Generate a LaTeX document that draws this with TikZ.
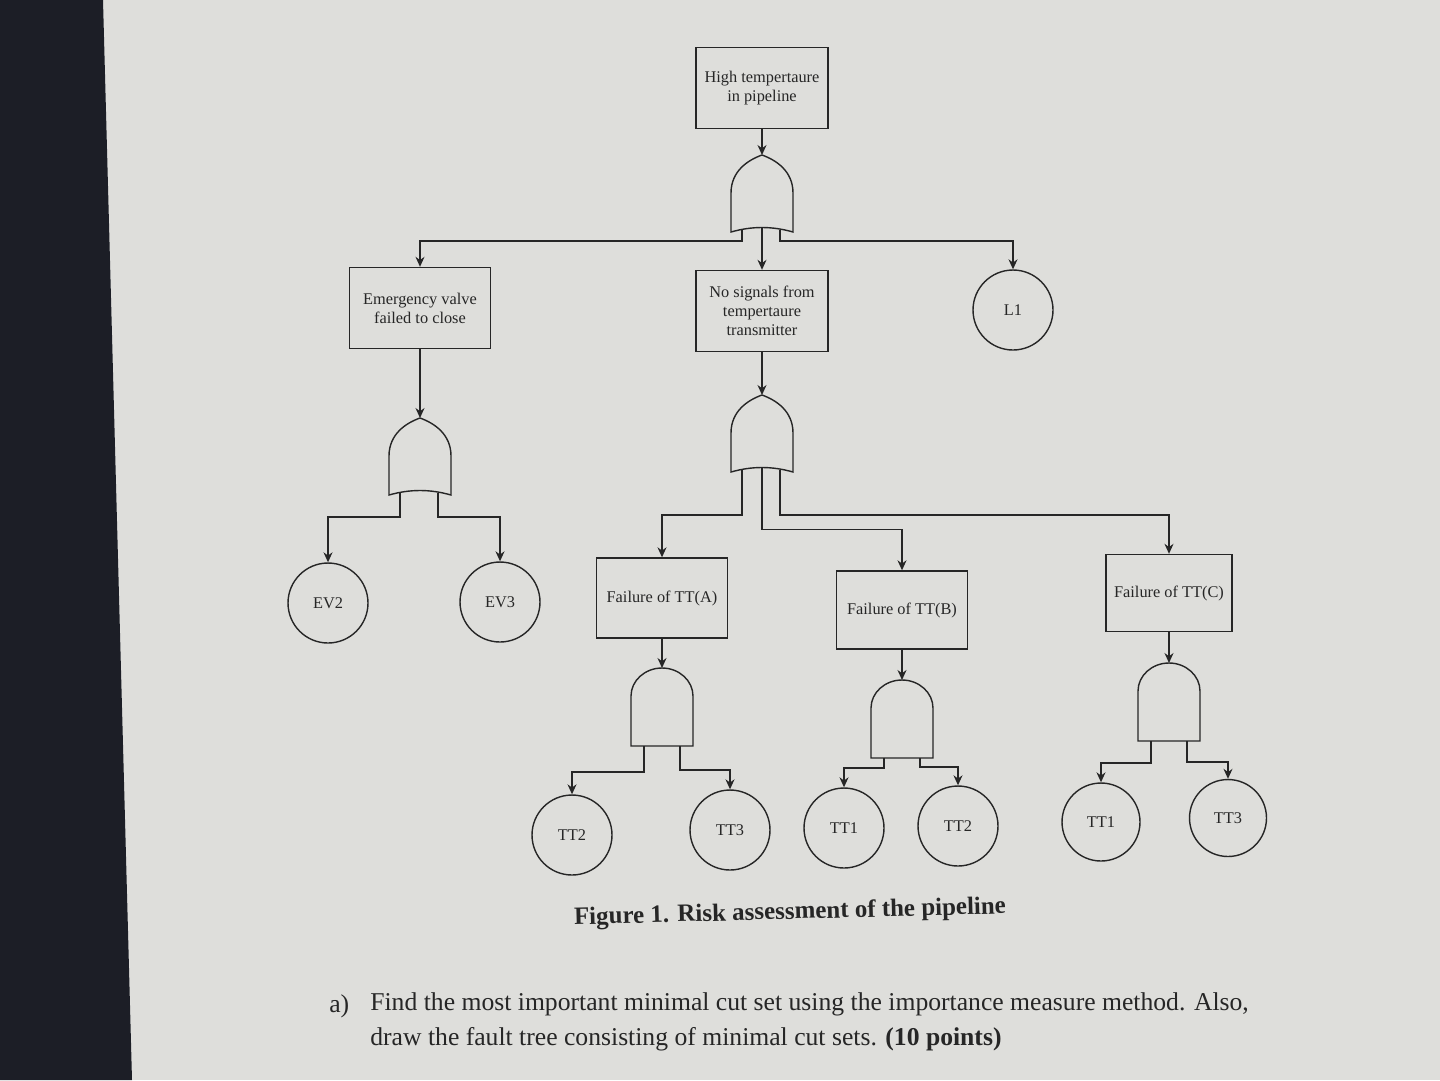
\documentclass[tikz,border=0pt]{standalone}
\usepackage{fontspec}
\setmainfont{Liberation Serif}
\usepackage{tikz}
\usetikzlibrary{arrows.meta,calc}
\definecolor{paper}{RGB}{222,222,219}
\definecolor{bezel}{RGB}{28,30,38}
\definecolor{ink}{RGB}{38,38,38}

% fault tree gates, placed by the coordinate of their top point
\newcommand{\orgate}[1]{%
  \begin{scope}[shift={(#1)}]
    \draw[gateline] (-31,38) .. controls (-31,16) and (-14,5) .. (0,0)
      .. controls (14,5) and (31,16) .. (31,38) -- (31,77)
      .. controls (10,71) and (-10,71) .. (-31,77) -- cycle;
    \coordinate (#1-l) at (-20,75);
    \coordinate (#1-c) at (0,72.5);
    \coordinate (#1-r) at (18,75);
  \end{scope}}
\newcommand{\andgate}[1]{%
  \begin{scope}[shift={(#1)}]
    \draw[gateline] (-31,78) -- (-31,28) .. controls (-31,12.6) and (-17,0) .. (0,0)
      .. controls (17,0) and (31,12.6) .. (31,28) -- (31,78) -- cycle;
    \coordinate (#1-l) at (-18,78);
    \coordinate (#1-r) at (18,78);
  \end{scope}}

\begin{document}
\begin{tikzpicture}[
    x=0.02cm, y=-0.02cm,
    event/.style={rectangle, draw=ink, line width=0.8pt, minimum width=2.64cm,
                  minimum height=1.62cm, align=center, inner sep=1pt,
                  text=ink, font=\fontsize{9.3}{10.8}\selectfont},
    basic/.style={circle, draw=ink, line width=0.8pt, minimum size=1.6cm,
                  inner sep=0pt, text=ink, font=\fontsize{9.3}{10.8}\selectfont},
    gateline/.style={draw=ink, line width=0.8pt},
    arr/.style={-{Stealth[length=2mm, width=1.8mm]}, draw=ink, line width=0.8pt},
    question/.style={text=ink, font=\fontsize{14.6}{17}\selectfont, inner sep=0pt, anchor=base west},
]
    \useasboundingbox (0,0) rectangle (1440,1080);
    \fill[paper] (0,0) rectangle (1440,1080);
    \fill[bezel] (0,0) -- (103,0) -- (132,1080) -- (0,1080) -- cycle;

    \node[event] (top) at (762,88) {High tempertaure\\in pipeline};
    \node[event, minimum width=2.82cm] (emerg) at (420,308) {Emergency valve\\failed to close};
    \node[event] (nosig) at (762,311) {No signals from\\tempertaure\\transmitter};
    \node[basic] (l1) at (1013,310) {L1};

    \node[basic] (ev2) at (328,603) {EV2};
    \node[basic] (ev3) at (500,602) {EV3};

    \node[event, minimum width=2.62cm, minimum height=1.6cm] (fa) at (662,598) {Failure of TT(A)};
    \node[event, minimum width=2.62cm, minimum height=1.56cm] (fb) at (902,610) {Failure of TT(B)};
    \node[event, minimum width=2.52cm, minimum height=1.54cm] (fc) at (1169,593) {Failure of TT(C)};

    \node[basic] (tt2a) at (572,835) {TT2};
    \node[basic] (tt3a) at (730,830) {TT3};
    \node[basic] (tt1b) at (844,828) {TT1};
    \node[basic] (tt2b) at (958,826) {TT2};
    \node[basic, minimum size=1.56cm] (tt1c) at (1101,822) {TT1};
    \node[basic, minimum size=1.54cm] (tt3c) at (1228,818) {TT3};

    \coordinate (or1) at (762,155);
    \coordinate (or2) at (420,418);
    \coordinate (or3) at (762,395);
    \coordinate (andA) at (662,668);
    \coordinate (andB) at (902,680);
    \coordinate (andC) at (1169,663);
    \orgate{or1}
    \orgate{or2}
    \orgate{or3}
    \andgate{andA}
    \andgate{andB}
    \andgate{andC}

    \draw[arr] (top.south) -- (or1);
    \draw[arr] (or1-l) -- ++(0,11) -| (emerg.north);
    \draw[arr] (or1-c) -- (nosig.north);
    \draw[arr] (or1-r) -- ++(0,11) -| (l1.north);

    \draw[arr] (emerg.south) -- (or2);
    \draw[arr] (or2-l) -- ++(0,24) -| (ev2.north);
    \draw[arr] (or2-r) -- ++(0,24) -| (ev3.north);

    \draw[arr] (nosig.south) -- (or3);
    \draw[arr] (or3-l) -- ++(0,45) -| (fa.north);
    \draw[arr] (or3-c) -- ++(0,62) -| (fb.north);
    \draw[arr] (or3-r) -- ++(0,45) -| (fc.north);

    \draw[arr] (fa.south) -- (andA);
    \draw[arr] (andA-l) -- ++(0,26) -| (tt2a.north);
    \draw[arr] (andA-r) -- ++(0,24) -| (tt3a.north);
    \draw[arr] (fb.south) -- (andB);
    \draw[arr] (andB-l) -- ++(0,10) -| (tt1b.north);
    \draw[arr] (andB-r) -- ++(0,9) -| (tt2b.north);
    \draw[arr] (fc.south) -- (andC);
    \draw[arr] (andC-l) -- ++(0,22) -| (tt1c.north);
    \draw[arr] (andC-r) -- ++(0,21) -| (tt3c.north);

    \node[text=ink, font=\fontsize{14.2}{16}\selectfont\bfseries, rotate=1.5] (caption) at (790,913)
        {Figure 1. Risk assessment of the pipeline};

    \node[question] (qa) at (329,1012) {a)};
    \node[question] (qline1) at (370,1010)
        {Find the most important minimal cut set using the importance measure method. Also,};
    \node[question] (qline2) at (370,1045)
        {draw the fault tree consisting of minimal cut sets. \textbf{(10 points)}};
\end{tikzpicture}
\end{document}
